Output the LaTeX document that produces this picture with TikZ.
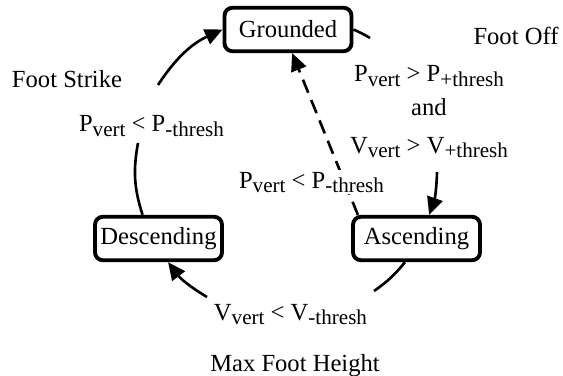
\documentclass[tikz,border=0pt]{standalone}
\usepackage{fontspec}
\setmainfont{Liberation Serif}
\usepackage{tikz}
\usetikzlibrary{arrows.meta, positioning}
\newcommand{\fsmfont}{\fontsize{14}{16}\selectfont}
\newcommand{\lowsub}[1]{\raisebox{-2.5pt}{\fontsize{12}{13}\selectfont #1}}
\tikzset{
  fsmstate/.style = {font=\fsmfont, draw=black, line width=2.2pt,
                     rounded corners=4.5pt, minimum width=2.54cm,
                     minimum height=0.87cm, inner sep=2pt},
  fsmtr/.style    = {draw=black, line width=1.5pt},
  fsmarr/.style   = {fsmtr, -{Triangle[length=10pt, width=9pt]}},
  fsmcond/.style  = {font=\fsmfont, inner sep=1pt, anchor=base},
  fsmevt/.style   = {font=\fsmfont, inner sep=1pt, anchor=base},
}

\begin{document}
\begin{tikzpicture}
        \useasboundingbox (0,0) rectangle (11.26,7.5);

        % states
        \node[fsmstate] (gnd) at (5.76,6.91) {Grounded};
        \node[fsmstate] (dsc) at (3.17,2.73) {Descending};
        \node[fsmstate] (asc) at (8.33,2.73) {Ascending};

        % breaks in the cycle for the conditions
        \coordinate (l1) at (2.76,4.64);
        \coordinate (l2) at (3.16,5.80);
        \coordinate (r1) at (7.40,6.74);
        \coordinate (r2) at (8.74,4.06);
        \coordinate (b1) at (7.48,1.68);
        \coordinate (b2) at (4.14,1.56);

        \draw[fsmtr]  (dsc.124) to[bend left=14] (l1);
        \draw[fsmarr] (l2) to[bend left=16] (gnd.west);
        \draw[fsmtr]  (gnd.east) to[bend left=4] (r1);
        \draw[fsmarr] (r2) to[bend left=9] (asc.62);
        \draw[fsmtr]  (asc.244) to[bend left=8] (b1);
        \draw[fsmarr] (b2) to[bend left=11] (dsc.292);
        \draw[fsmarr, dash pattern=on 8pt off 4.5pt] (asc.158) -- (gnd.280);

        % conditions
        \node[fsmcond] (cup) at (8.58,5.86)
             {P\lowsub{vert} > P\lowsub{+thresh}};
        \node[fsmcond] (cand) at (8.58,5.20) {and};
        \node[fsmcond] (cvup) at (8.58,4.44)
             {V\lowsub{vert} > V\lowsub{+thresh}};
        \node[fsmcond] (cleft) at (3.03,4.86)
             {P\lowsub{vert} < P\lowsub{-thresh}};
        \node[fsmcond, fill=white] (cmid) at (6.23,3.74)
             {P\lowsub{vert} < P\lowsub{-thresh}};
        \node[fsmcond] (cbot) at (5.81,1.10)
             {V\lowsub{vert} < V\lowsub{-thresh}};

        % events
        \node[fsmevt] (off) at (10.32,6.60) {Foot Off};
        \node[fsmevt] (strike) at (1.34,5.74) {Foot Strike};
        \node[fsmevt] (maxh) at (5.90,0.07) {Max Foot Height};
\end{tikzpicture}
\end{document}
